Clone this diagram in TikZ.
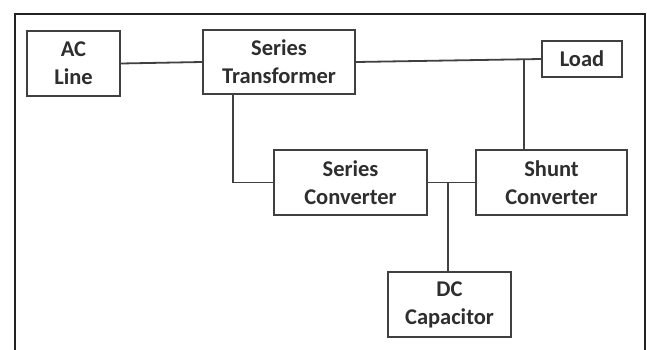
\documentclass[tikz,border=0pt]{standalone}
\usepackage{fontspec}
\setmainfont{Carlito}
\definecolor{linec}{HTML}{404040}
\definecolor{textc}{HTML}{2E2E2E}
\definecolor{framec}{HTML}{222222}
\begin{document}
\begin{tikzpicture}[x=1pt,y=-1pt,
  blk/.style={draw=linec,line width=1.8pt,fill=white,inner sep=0pt,align=center,
    text=textc,font=\fontsize{22.5}{28}\selectfont\bfseries},
  wire/.style={draw=linec,line width=1.8pt},
  frame/.style={draw=framec,line width=2.6pt}]
\useasboundingbox (0,0) rectangle (647,350);
\draw[frame] (15,350) -- (15,14) -- (645,14) -- (645,350);
\node[blk,minimum width=93pt,minimum height=65pt] (ac) at (73.5,63.5) {AC\\Line};
\node[blk,minimum width=152pt,minimum height=64pt] (st) at (279,62) {Series\\Transformer};
\node[blk,minimum width=80pt,minimum height=36pt] (load) at (582,59) {Load};
\node[blk,minimum width=153pt,minimum height=65pt] (sc) at (350.5,182.5) {Series\\Converter};
\node[blk,minimum width=151pt,minimum height=65pt] (sh) at (551.5,182.5) {Shunt\\Converter};
\node[blk,minimum width=123pt,minimum height=65pt] (dc) at (449.5,304.5) {DC\\Capacitor};
\coordinate (j1) at (524,60.5);
\coordinate (j2) at (448,182.5);
\coordinate (sb) at (233,0);
\draw[wire] (ac.east) -- (st.west);
\draw[wire] (st.east) -- (load.west);
\draw[wire] (j1) -- (j1 |- sh.north);
\draw[wire] (st.south -| sb) |- (sc.west);
\draw[wire] (sc.east) -- (sh.west);
\draw[wire] (j2) -- (j2 |- dc.north);
\end{tikzpicture}
\end{document}
